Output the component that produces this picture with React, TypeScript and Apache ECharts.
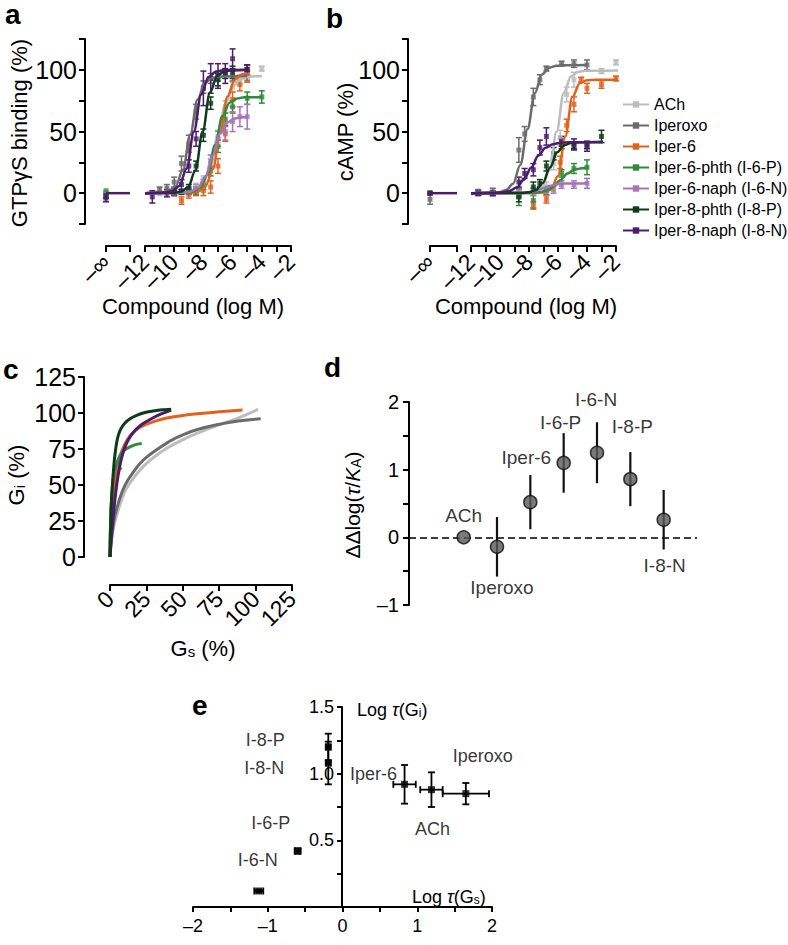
import React, { useEffect, useRef } from "react";
import * as echarts from "echarts";

const FONT = "'Liberation Sans', Arial, Helvetica, sans-serif";

const COMPOUNDS = [
  "ACh",
  "Iperoxo",
  "Iper-6",
  "Iper-6-phth (I-6-P)",
  "Iper-6-naph (I-6-N)",
  "Iper-8-phth (I-8-P)",
  "Iper-8-naph (I-8-N)",
];
const COLORS = ["#bdbdbd", "#6b6b6b", "#e2621b", "#2f8a3c", "#a575b6", "#0f3a1c", "#4a1b6e"];

// ---------- Panel a: GTPγS binding (%) vs log M ----------
const aCurveACh = [[-12, 0], [-9.5, 0.3], [-9, 0.9], [-8.5, 2.9], [-8, 8.6], [-7.5, 22.8], [-7, 47.5], [-6.5, 72.2], [-6, 86.4], [-5.5, 92.1], [-5, 94.1], [-4.5, 94.7], [-4, 95]];
const aCurveIperoxo = [[-12, 0], [-10.9, 0.4], [-10.4, 1.5], [-9.9, 5.6], [-9.4, 19], [-8.9, 47.5], [-8.4, 76], [-7.9, 89.3], [-7.4, 93.5], [-6.9, 94.6], [-5, 95]];
const aCurveIper6 = [[-12, 0], [-8.85, 0.4], [-8.35, 1.5], [-7.85, 5.8], [-7.35, 19.6], [-6.85, 49], [-6.35, 78.4], [-5.85, 92], [-5.35, 96.4], [-5, 97]];
const aCurveI6P = [[-12, 0], [-9.2, 0.3], [-8.7, 1.2], [-8.2, 4.6], [-7.7, 15.6], [-7.2, 39], [-6.7, 62.4], [-6.2, 73.3], [-5.7, 76.8], [-5.2, 77.7], [-4, 78]];
const aCurveI6N = [[-12, 0], [-9.35, 0.4], [-8.85, 1.4], [-8.35, 4.6], [-7.85, 13.6], [-7.35, 31], [-6.85, 48.4], [-6.35, 57.4], [-5.85, 60.6], [-5.35, 61.6], [-5, 61.8]];
const aCurveI8P = [[-12, 0], [-10.05, 0.25], [-9.55, 1.1], [-9.05, 4.8], [-8.55, 18.3], [-8.05, 50], [-7.55, 81.7], [-7.05, 95.2], [-6.55, 98.9], [-6.05, 99.75], [-5, 100]];
const aCurveI8N = [[-12, 0], [-10.65, 0.4], [-10.15, 1.6], [-9.65, 5.9], [-9.15, 20], [-8.65, 50], [-8.15, 80], [-7.65, 94.1], [-7.15, 98.4], [-6.65, 99.6], [-5, 100]];

// points: [log M, mean %, s.e.m.]
const aPtsACh = [[-11, 0, 2], [-10, 1, 2], [-9, 2, 3], [-8.5, 5, 3], [-8, 11, 3], [-7.5, 24, 4], [-7, 46, 5], [-6.5, 70, 5], [-6, 86, 4], [-5.5, 92, 4], [-5, 95, 3], [-4, 101, 2]];
const aPtsIperoxo = [[-11, 3, 2], [-10.5, 4, 3], [-10, 9, 4], [-9.5, 24, 6], [-9, 40, 7], [-8.5, 66, 6], [-8, 86, 5], [-7.5, 93, 4], [-7, 95, 4], [-6, 95, 4], [-5, 95, 4]];
const aPtsIper6 = [[-9.5, -6, 3], [-9, -1, 3], [-8.5, 1, 3], [-8, 2, 4], [-7.5, 5, 5], [-7, 22, 6], [-6.5, 48, 6], [-6, 76, 6], [-5.5, 88, 5], [-5, 96, 6]];
const aPtsI6P = [[-9, 1, 2], [-8.5, 2, 3], [-8, 6, 3], [-7.5, 18, 4], [-7, 38, 5], [-6.5, 60, 5], [-6, 70, 5], [-5, 77, 5], [-4, 78, 5]];
const aPtsI6N = [[-10, 0, 2], [-9, 2, 2], [-8.5, 4, 3], [-8, 8, 3], [-7.5, 26, 5], [-7, 44, 6], [-6.5, 50, 7], [-6, 58, 8], [-5.5, 62, 8], [-5, 62, 10]];
const aPtsI8P = [[-10, 1, 2], [-9.5, 1, 2], [-9, 4, 3], [-8.5, 22, 4], [-8, 47, 5], [-7.5, 73, 5], [-7, 92, 5], [-6.5, 97, 4], [-6, 98, 5], [-5, 100, 4]];
const aPtsI8N = [[-11.5, -3, 5], [-10.5, 0, 3], [-10, 1, 3], [-9.5, 7, 4], [-9, 22, 5], [-8.5, 44, 6], [-8, 85, 14], [-7.5, 93, 12], [-7, 95, 10], [-6.5, 97, 8], [-6, 109, 8], [-5, 100, 4]];
// value at −∞ (buffer) and its s.e.m.
const aInfValues = [0, 0, 0, 2, -1, -2, -4];
const aInfErrors = [0, 0, 0, 0, 0, 2, 3];

// ---------- Panel b: cAMP (%) vs log M ----------
const bCurveACh = [[-12, 0], [-8.1, 0.25], [-7.6, 1.1], [-7.1, 4.8], [-6.6, 18.2], [-6.1, 49.8], [-5.6, 81.3], [-5.1, 94.7], [-4.6, 98.4], [-4.1, 99.3], [-0.5, 99.5]];
const bCurveIperoxo = [[-12, 0], [-10.1, 0.7], [-9.6, 2.3], [-9.1, 7.7], [-8.6, 22.9], [-8.1, 52], [-7.6, 81.1], [-7.1, 96.3], [-6.6, 101.7], [-6.1, 103.4], [-5.6, 103.8], [-4, 104]];
const bCurveIper6 = [[-12, 0], [-7.5, 0.1], [-7, 0.5], [-6.5, 2.8], [-6, 13.9], [-5.5, 46], [-5, 78.1], [-4.5, 89.2], [-4, 91.5], [-3.5, 91.9], [-0.5, 92]];
const bCurveI6P = [[-12, 0], [-7.85, 0.2], [-7.35, 0.65], [-6.85, 1.9], [-6.35, 5], [-5.85, 10.5], [-5.35, 16], [-4.85, 19.1], [-4.35, 20.3], [-3.9, 20.7]];
const bCurveI6N = [[-12, 0], [-9, 0.1], [-8.5, 0.2], [-8, 0.7], [-7.5, 1.9], [-7, 4], [-6.5, 6.1], [-6, 7.3], [-5.5, 7.75], [-3.9, 8]];
const bCurveI8P = [[-12, 0], [-8.55, 0.17], [-8.05, 0.65], [-7.55, 2.4], [-7.05, 8.3], [-6.55, 20.8], [-6.05, 33.2], [-5.55, 39], [-5.05, 40.8], [-4.55, 41.3], [-2.9, 41.5]];
const bCurveI8N = [[-12, 0], [-10.35, 0.23], [-9.85, 0.65], [-9.35, 1.8], [-8.85, 4.6], [-8.35, 10.9], [-7.85, 20.8], [-7.35, 30.6], [-6.85, 36.9], [-6.35, 39.7], [-5.85, 40.8], [-5.35, 41.3], [-2.9, 41.5]];

const bPtsACh = [[-8.7, 0, 2], [-7.7, 1, 3], [-6.8, 5, 4], [-6.3, 24, 5], [-5.85, 45, 6], [-5.4, 80, 6], [-4.9, 92, 6], [-3, 99, 2], [-2, 106, 2]];
const bPtsIperoxo = [[-11.5, 1, 2], [-10.5, 1, 3], [-8.7, 35, 10], [-8.3, 48, 6], [-7.7, 78, 7], [-7.25, 92, 4], [-6.8, 101, 2], [-5.75, 105, 2], [-4.9, 105, 3], [-4, 104, 4]];
const bPtsIper6 = [[-7.7, -10, 3], [-6.8, -5, 3], [-5.85, 25, 5], [-5.4, 55, 5], [-4.9, 72, 6], [-4.4, 92, 2], [-4, 85, 4], [-3, 88, 3], [-2, 93, 2]];
const bPtsI6P = [[-8.7, -3, 7], [-7.7, -6, 6], [-6.8, 2, 3], [-5.75, 16, 3], [-4.9, 20, 4], [-4, 21, 6]];
const bPtsI6N = [[-8.7, 0, 3], [-7.7, 1, 3], [-6.8, 2, 4], [-6.3, 3, 3], [-5.75, 7, 3], [-4.9, 7, 3], [-4, 8, 4]];
const bPtsI8P = [[-8.7, -3, 4], [-7.7, 5, 4], [-7.25, 8, 3], [-6.8, 22, 4], [-6.3, 32, 5], [-5.75, 40, 4], [-4.9, 38, 3], [-4, 39, 3], [-3, 46, 5]];
const bPtsI8N = [[-11.5, 0, 2], [-10.5, 0, 2], [-8.7, 9, 4], [-8.3, 16, 4], [-7.7, 19, 5], [-7.25, 37, 6], [-6.8, 46, 7], [-5.75, 42, 4], [-4.9, 40, 4], [-4, 38, 4]];
const bInfValues = [0, -5, 0, 0, 0, 0, 0];
const bInfErrors = [0, 4, 0, 0, 0, 0, 0];

// baseline of the fitted curve over the −∞ segment
const infLine = [[0, 0], [1, 0]];

// ---------- Panel c: Gi (%) vs Gs (%) ----------
const cCurveACh = [[0, 0], [0.4, 5], [0.9, 10], [1.6, 15], [2.6, 21], [4, 27], [5.8, 33], [8, 40], [11, 47], [14.5, 52.5], [19, 58.5], [24, 64], [31, 70], [39, 75.5], [48, 80.5], [60, 86], [73, 91], [87, 96], [101.7, 102.5]];
const cCurveIperoxo = [[0, 0], [0.3, 5], [0.7, 10], [1.2, 15], [2, 21], [3, 27], [4.5, 33], [6.5, 40], [9, 47], [12, 53], [16, 59], [20.6, 65], [26, 70], [34.3, 76], [42, 81], [50.4, 85], [60, 88.5], [73.3, 91.8], [88, 94.5], [103.5, 96]];
const cCurveIper6 = [[0, 0], [0.3, 10], [0.8, 22], [1.5, 33], [2.3, 43], [3.3, 52], [4.5, 60], [6.9, 70], [10, 78], [13.7, 84], [18, 88.5], [22.9, 91.3], [30, 94], [39, 96.5], [50, 98.3], [61.8, 99.6], [75, 100.8], [91, 102]];
const cCurveI6P = [[0, 0], [0.2, 15], [0.5, 28], [1, 40], [1.5, 48], [2.3, 55], [3.5, 61], [5, 66], [6.9, 70.5], [9.5, 74], [13.7, 76.5], [17.5, 78], [21.8, 78.9]];
const cCurveI6N = [[0, 0], [0.2, 15], [0.6, 30], [1.3, 42], [2.5, 51], [4, 56], [6, 60], [8, 62]];
const cCurveI8P = [[0, 0], [0.2, 12], [0.6, 28], [1.1, 40], [1.8, 52], [2.6, 63], [3.4, 71], [4.5, 79], [5.7, 84.5], [7.5, 89], [10.3, 93], [14, 96.2], [18.3, 98.4], [24, 100.3], [29.8, 101.4], [36, 102.2], [42, 102.6]];
const cCurveI8N = [[0, 0], [0.4, 6], [1.1, 15], [2, 26], [3.4, 40], [5, 53], [6.9, 64], [9, 72.5], [11.4, 79], [14.5, 84.5], [18.3, 89], [22.5, 92.5], [27.5, 95.5], [34, 98.8], [42, 102]];

// ---------- Panel d: ΔΔlog(τ/KA) ----------
const dNames = ["ACh", "Iperoxo", "Iper-6", "I-6-P", "I-6-N", "I-8-P", "I-8-N"];
const dValues = [0, -0.14, 0.52, 1.1, 1.25, 0.86, 0.26];
const dErrors = [0, 0.44, 0.4, 0.44, 0.45, 0.4, 0.44];

// ---------- Panel e: log τ(Gi) vs log τ(Gs) ----------
const eNames = ["ACh", "Iperoxo", "Iper-6", "I-6-P", "I-6-N", "I-8-P", "I-8-N"];
const eLogTauGs = [1.19, 1.65, 0.83, -0.6, -1.12, -0.19, -0.19];
const eLogTauGsErr = [0.15, 0.31, 0.15, 0.04, 0.06, 0.03, 0.03];
const eLogTauGi = [0.88, 0.85, 0.92, 0.42, 0.12, 1.2, 1.08];
const eLogTauGiErr = [0.13, 0.08, 0.145, 0.02, 0.01, 0.1, 0.16];

// label offsets (px) for annotations, styling only
const dLabelOffsets = [[0, -22], [5, 41], [-4, -45], [-3, -40], [-1, -53], [2, -53], [1, 46]];
const eLabelOffsets = [[1, 39], [17, -38], [-31, -10], [-27, -28], [-1, -31], [-63, -7], [-64, 5]];

const aCurves = [aCurveACh, aCurveIperoxo, aCurveIper6, aCurveI6P, aCurveI6N, aCurveI8P, aCurveI8N];
const aPts = [aPtsACh, aPtsIperoxo, aPtsIper6, aPtsI6P, aPtsI6N, aPtsI8P, aPtsI8N];
const bCurves = [bCurveACh, bCurveIperoxo, bCurveIper6, bCurveI6P, bCurveI6N, bCurveI8P, bCurveI8N];
const bPts = [bPtsACh, bPtsIperoxo, bPtsIper6, bPtsI6P, bPtsI6N, bPtsI8P, bPtsI8N];
const cCurves = [cCurveACh, cCurveIperoxo, cCurveIper6, cCurveI6P, cCurveI6N, cCurveI8P, cCurveI8N];

const dash = (v: number) => (v < 0 ? "\u2013" + Math.abs(v) : String(v));

function vErrRender(color: string, cap: number, lw: number) {
  return (params: any, api: any) => {
    const x = api.value(0);
    const y = api.value(1);
    const e = api.value(2);
    if (!e) return { type: "group", children: [] };
    const t = api.coord([x, y + e]);
    const b = api.coord([x, y - e]);
    const st = { stroke: color, lineWidth: lw };
    const ch: any[] = [{ type: "line", shape: { x1: t[0], y1: t[1], x2: b[0], y2: b[1] }, style: st }];
    if (cap > 0) {
      ch.push({ type: "line", shape: { x1: t[0] - cap, y1: t[1], x2: t[0] + cap, y2: t[1] }, style: st });
      ch.push({ type: "line", shape: { x1: b[0] - cap, y1: b[1], x2: b[0] + cap, y2: b[1] }, style: st });
    }
    return { type: "group", children: ch };
  };
}

function xyErrRender(color: string, cap: number, lw: number) {
  return (params: any, api: any) => {
    const x = api.value(0);
    const y = api.value(1);
    const ex = api.value(2);
    const ey = api.value(3);
    const st = { stroke: color, lineWidth: lw };
    const t = api.coord([x, y + ey]);
    const b = api.coord([x, y - ey]);
    const l = api.coord([x - ex, y]);
    const r = api.coord([x + ex, y]);
    return {
      type: "group",
      children: [
        { type: "line", shape: { x1: t[0], y1: t[1], x2: b[0], y2: b[1] }, style: st },
        { type: "line", shape: { x1: t[0] - cap, y1: t[1], x2: t[0] + cap, y2: t[1] }, style: st },
        { type: "line", shape: { x1: b[0] - cap, y1: b[1], x2: b[0] + cap, y2: b[1] }, style: st },
        { type: "line", shape: { x1: l[0], y1: l[1], x2: r[0], y2: r[1] }, style: st },
        { type: "line", shape: { x1: l[0], y1: l[1] - cap, x2: l[0], y2: l[1] + cap }, style: st },
        { type: "line", shape: { x1: r[0], y1: r[1] - cap, x2: r[0], y2: r[1] + cap }, style: st },
      ],
    };
  };
}

const axisLine = { show: true, onZero: false, lineStyle: { color: "#000", width: 2 } };
const tick = (len: number) => ({ show: true, length: len, lineStyle: { color: "#000", width: 2 } });
const lab = (fs: number, extra: any = {}) => ({ color: "#000", fontSize: fs, fontFamily: FONT, ...extra });

function buildOption(): any {
  const G = (left: number, top: number, width: number, height: number) => ({
    left, top, width, height, containLabel: false, outerBoundsMode: "none",
  });
  const grid = [
    G(106, 39, 24, 185), // 0 a −∞
    G(145, 39, 146, 185), // 1 a main
    G(430, 39, 27, 185), // 2 b −∞
    G(471, 39, 145, 185), // 3 b main
    G(110, 377, 182, 180), // 4 c
    G(409, 402, 288, 203), // 5 d
    G(193, 707, 299, 200), // 6 e
  ];

  const infX = (gi: number) => ({
    type: "value", gridIndex: gi, min: 0, max: 1, interval: 1, offset: 22,
    axisLine, axisTick: tick(6), splitLine: { show: false },
    axisLabel: lab(23, { rotate: 45, margin: 12, formatter: (v: number) => (v === 0 ? "\u2013\u221e" : "") }),
  });
  const mainX = (gi: number) => ({
    type: "value", gridIndex: gi, min: -12, max: -2, interval: 1, offset: 22,
    axisLine, axisTick: tick(6), splitLine: { show: false },
    axisLabel: lab(23, { rotate: 45, margin: 12, formatter: (v: number) => (Math.round(v) % 2 === 0 ? dash(Math.round(v)) : "") }),
  });
  const pctY = (gi: number, offset: number) => ({
    type: "value", gridIndex: gi, min: -25, max: 125, interval: 25, offset,
    axisLine, axisTick: tick(6), splitLine: { show: false },
    axisLabel: lab(25, { margin: 8, formatter: (v: number) => (v >= 0 && v <= 100 && v % 50 === 0 ? String(v) : "") }),
  });
  const hiddenY = (gi: number) => ({ type: "value", gridIndex: gi, min: -25, max: 125, show: false, splitLine: { show: false } });

  const xAxis = [
    infX(0),
    mainX(1),
    infX(2),
    mainX(3),
    {
      type: "value", gridIndex: 4, min: 0, max: 125, interval: 25, offset: 28,
      axisLine, axisTick: tick(6), splitLine: { show: false },
      axisLabel: lab(23, { rotate: 45, margin: 10 }),
    },
    { type: "value", gridIndex: 5, min: -0.64, max: 8, show: false, splitLine: { show: false } },
    {
      type: "value", gridIndex: 6, min: -2, max: 2, interval: 0.5,
      axisLine, axisTick: tick(5), splitLine: { show: false },
      axisLabel: lab(18, { margin: 10, formatter: (v: number) => (Math.abs(v - Math.round(v)) < 1e-6 ? dash(Math.round(v)) : "") }),
    },
  ];
  const yAxis = [
    pctY(0, 21),
    hiddenY(1),
    pctY(2, 22),
    hiddenY(3),
    {
      type: "value", gridIndex: 4, min: 0, max: 125, interval: 25, offset: 26,
      axisLine, axisTick: tick(6), splitLine: { show: false },
      axisLabel: lab(25, { margin: 8 }),
    },
    {
      type: "value", gridIndex: 5, min: -1, max: 2, interval: 0.5,
      axisLine, axisTick: tick(6), splitLine: { show: false },
      axisLabel: lab(20, { margin: 10, formatter: (v: number) => (Math.abs(v - Math.round(v)) < 1e-6 ? dash(Math.round(v)) : "") }),
    },
    {
      // the y axis of panel e crosses the x axis at log τ(Gs) = 0
      type: "value", gridIndex: 6, min: 0, max: 1.5, interval: 0.25, offset: -149,
      axisLine, axisTick: tick(5), splitLine: { show: false },
      axisLabel: lab(18, { margin: 8, formatter: (v: number) => (v > 0.01 && Math.abs(v * 2 - Math.round(v * 2)) < 1e-6 ? v.toFixed(1) : "") }),
    },
  ];

  const series: any[] = [];
  const errS = (name: string, data: any[], color: string, gi: number) => ({
    type: "custom", name, coordinateSystem: "cartesian2d", xAxisIndex: gi, yAxisIndex: gi,
    data, renderItem: vErrRender(color, 3, 1.5), encode: { x: 0, y: 1 }, silent: true,
  });
  const ptS = (name: string, data: any[], color: string, gi: number) => ({
    type: "scatter", name, xAxisIndex: gi, yAxisIndex: gi, symbol: "rect", symbolSize: 5,
    itemStyle: { color }, data: data.map((p: number[]) => [p[0], p[1]]), silent: true,
  });
  const curveS = (name: string, data: any[], color: string, gi: number, width: number) => ({
    type: "line", name, xAxisIndex: gi, yAxisIndex: gi, data, smooth: 0.35, smoothMonotone: "x",
    symbol: "rect", symbolSize: 5, showSymbol: false, clip: false,
    lineStyle: { color, width }, itemStyle: { color }, silent: true,
  });

  COMPOUNDS.forEach((name, i) => {
    const color = COLORS[i];
    // a
    series.push(errS(name + " a err", aPts[i], color, 1));
    series.push(ptS(name + " a pts", aPts[i], color, 1));
    series.push(curveS(name, aCurves[i], color, 1, 2.5));
    series.push(errS(name + " a inf err", [[0, aInfValues[i], aInfErrors[i]]], color, 0));
    series.push(ptS(name + " a inf", [[0, aInfValues[i]]], color, 0));
    // b
    series.push(errS(name + " b err", bPts[i], color, 3));
    series.push(ptS(name + " b pts", bPts[i], color, 3));
    series.push(curveS(name, bCurves[i], color, 3, 2.5));
    series.push(errS(name + " b inf err", [[0, bInfValues[i], bInfErrors[i]]], color, 2));
    series.push(ptS(name + " b inf", [[0, bInfValues[i]]], color, 2));
  });
  // −∞ baseline segments (top-most curve colour)
  series.push(curveS("I-8-N inf a", infLine, COLORS[6], 0, 2.5));
  series.push(curveS("I-8-N inf b", infLine, COLORS[6], 2, 2.5));

  // c
  const cOrder = [4, 0, 1, 2, 3, 6, 5];
  cOrder.forEach((i) => {
    series.push({
      type: "line", name: COMPOUNDS[i], xAxisIndex: 4, yAxisIndex: 4, data: cCurves[i],
      smooth: 0.25, showSymbol: false, symbol: "rect",
      lineStyle: { color: COLORS[i], width: 3 }, itemStyle: { color: COLORS[i] }, silent: true,
    });
  });

  // d
  series.push({
    type: "custom", name: "d err", coordinateSystem: "cartesian2d", xAxisIndex: 5, yAxisIndex: 5,
    data: dValues.map((v, i) => [i + 1, v, dErrors[i]]), encode: { x: 0, y: 1 },
    renderItem: vErrRender("#111", 0, 2.2), silent: true, z: 2,
    markLine: {
      silent: true, symbol: "none", z: 1, label: { show: false },
      lineStyle: { color: "#000", width: 1.6, type: [7, 4] },
      data: [{ yAxis: 0 }],
    },
  });
  series.push({
    type: "scatter", name: "d pts", xAxisIndex: 5, yAxisIndex: 5, z: 3, silent: true,
    symbol: "circle", symbolSize: 13,
    itemStyle: { color: "#5a5a5a", borderColor: "#111", borderWidth: 1.5 },
    label: { show: true, position: "inside", color: "#000", fontSize: 19, fontFamily: FONT },
    data: dValues.map((v, i) => ({
      value: [i + 1, v],
      label: { formatter: dNames[i], offset: dLabelOffsets[i] },
    })),
  });

  // e
  series.push({
    type: "custom", name: "e err", coordinateSystem: "cartesian2d", xAxisIndex: 6, yAxisIndex: 6,
    data: eLogTauGs.map((x, i) => [x, eLogTauGi[i], eLogTauGsErr[i], eLogTauGiErr[i]]),
    encode: { x: 0, y: 1 }, renderItem: xyErrRender("#000", 3.5, 1.8), silent: true,
  });
  series.push({
    type: "scatter", name: "e pts", xAxisIndex: 6, yAxisIndex: 6, silent: true,
    symbol: "rect", symbolSize: 7, itemStyle: { color: "#000" },
    label: { show: true, position: "inside", color: "#000", fontSize: 18, fontFamily: FONT },
    data: eLogTauGs.map((x, i) => ({
      value: [x, eLogTauGi[i]],
      label: { formatter: eNames[i], offset: eLabelOffsets[i] },
    })),
  });

  const T = (text: string, x: number, y: number, fs: number, opts: any = {}) => ({
    type: "text", x, y, rotation: opts.rotation || 0, silent: true,
    style: {
      text, fill: "#000", fontSize: fs, fontFamily: FONT, fontWeight: opts.bold ? "bold" : "normal",
      align: opts.align || "center", verticalAlign: "middle", rich: opts.rich,
    },
  });
  const rich = (fs: number, sub: number) => ({
    m: { fontSize: fs, fontFamily: FONT, fill: "#000" },
    it: { fontSize: fs, fontFamily: FONT, fill: "#000", fontStyle: "italic" },
    s: { fontSize: sub, fontFamily: FONT, fill: "#000", verticalAlign: "bottom" },
  });
  const graphic = [
    T("a", 5, 14, 28, { bold: true, align: "left" }),
    T("b", 326, 18, 28, { bold: true, align: "left" }),
    T("c", 3, 369, 28, { bold: true, align: "left" }),
    T("d", 324, 367, 28, { bold: true, align: "left" }),
    T("e", 192, 705, 28, { bold: true, align: "left" }),
    T("GTP\u03b3S binding (%)", 19, 133, 22, { rotation: Math.PI / 2 }),
    T("cAMP (%)", 345, 132, 22, { rotation: Math.PI / 2 }),
    T("Compound (log M)", 193, 306, 22),
    T("Compound (log M)", 526, 306, 22),
    T("{m|G}{s|i}{m| (%)}", 16, 475, 22, { rotation: Math.PI / 2, rich: rich(22, 15) }),
    T("{m|G}{s|s}{m| (%)}", 203, 648, 22, { rich: rich(22, 15) }),
    T("{m|\u0394\u0394log(}{it|\u03c4}{m|/}{it|K}{s|A}{m|)}", 352, 505, 21, { rotation: Math.PI / 2, rich: rich(21, 14) }),
    T("{m|Log }{it|\u03c4}{m|(G}{s|i}{m|)}", 357, 710, 18, { align: "left", rich: rich(18, 12) }),
    T("{m|Log }{it|\u03c4}{m|(G}{s|s}{m|)}", 412, 897, 18, { align: "left", rich: rich(18, 12) }),
  ];

  return {
    animation: false,
    backgroundColor: "#fff",
    textStyle: { fontFamily: FONT },
    grid,
    xAxis,
    yAxis,
    legend: {
      data: COMPOUNDS,
      orient: "vertical",
      left: 617,
      top: 91,
      itemWidth: 26,
      itemHeight: 8,
      itemGap: 4,
      selectedMode: false,
      textStyle: { fontSize: 16, fontFamily: FONT, color: "#000", lineHeight: 17 },
    },
    series,
    graphic,
  };
}

export default function App() {
  const ref = useRef<HTMLDivElement>(null);
  useEffect(() => {
    document.body.style.margin = "0";
    const chart = echarts.init(ref.current as HTMLDivElement, null, { renderer: "svg" });
    chart.setOption(buildOption());
    return () => chart.dispose();
  }, []);
  return <div ref={ref} style={{ width: 788, height: 945 }} />;
}
